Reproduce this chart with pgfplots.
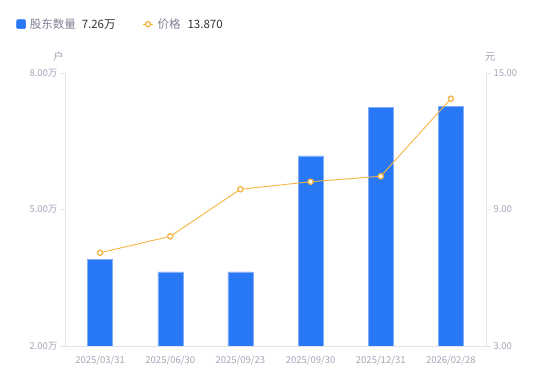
\documentclass[border=0pt]{standalone}
\usepackage{pgfplots}
\pgfplotsset{compat=1.18}
\usepackage{fontspec}
\setmainfont{Noto Sans CJK SC}
\definecolor{barblue}{HTML}{2878F5}
\definecolor{baredge}{HTML}{7FADF7}
\definecolor{lineorg}{HTML}{F7B443}
\definecolor{axgray}{HTML}{E3E4EA}
\definecolor{lblgray}{HTML}{A3A6B6}
\definecolor{leggray}{HTML}{7E8194}
\definecolor{legdark}{HTML}{333333}
\begin{document}
\begin{tikzpicture}
\useasboundingbox (0,0) rectangle (550bp,381bp);
\begin{axis}[
  at={(65bp,35bp)}, anchor=south west,
  scale only axis, width=421bp, height=273bp,
  xmin=-0.5, xmax=5.5, ymin=2, ymax=8,
  axis y line*=left, axis x line*=bottom,
  axis line style={draw=axgray, line width=0.8bp},
  ytick={2,5,8}, yticklabels={2.00万,5.00万,8.00万},
  xtick={0,1,2,3,4,5},
  xticklabels={2025/03/31,2025/06/30,2025/09/23,2025/09/30,2025/12/31,2026/02/28},
  xtick style={draw=none},
  ytick style={draw=axgray, line width=0.8bp},
  tick align=outside, major tick length=5bp,
  ticklabel style={font=\fontsize{9.5bp}{11bp}\selectfont, text=lblgray},
  yticklabel style={xshift=1bp},
  xticklabel style={yshift=-1bp},
  ylabel={户},
  ylabel style={rotate=-90, at={(axis description cs:-0.015,1.06)}, anchor=center, font=\fontsize{10.5bp}{12bp}\selectfont, text=lblgray},
  legend columns=2,
  legend style={at={(axis description cs:-0.116,1.179)}, anchor=west, draw=none, fill=none, inner sep=0pt,
    font=\fontsize{11.5bp}{13bp}\selectfont, text=leggray,
    /tikz/every even column/.append style={column sep=25bp}},
]
\addplot[ybar, bar width=25bp, fill=barblue, draw=baredge, line width=0.5bp, forget plot]
  coordinates {(0,3.91) (1,3.63) (2,3.63) (3,6.18) (4,7.25) (5,7.26)};
\addlegendimage{legend image code/.code={\fill[barblue, rounded corners=1.2bp] (0bp,-4.5bp) rectangle (9bp,4.5bp);}}
\addlegendentry{\hspace{2bp}股东数量\hspace{6bp}\textcolor{legdark}{7.26万}}
\addlegendimage{legend image code/.code={\draw[lineorg, line width=1bp] (0bp,0bp) -- (10bp,0bp); \draw[lineorg, fill=white, line width=1.3bp] (5bp,0bp) circle (2.6bp);}}
\addlegendentry{\hspace{2bp}价格\hspace{7bp}\textcolor{legdark}{13.870}}
\end{axis}
\begin{axis}[
  at={(65bp,35bp)}, anchor=south west,
  scale only axis, width=421bp, height=273bp,
  xmin=-0.5, xmax=5.5, ymin=3, ymax=15,
  axis y line*=right, axis x line=none,
  axis line style={draw=axgray, line width=0.8bp},
  ytick={3,9,15}, yticklabels={3.00,9.00,15.00},
  ytick style={draw=axgray, line width=0.8bp},
  tick align=outside, major tick length=5bp,
  ticklabel style={font=\fontsize{9.5bp}{11bp}\selectfont, text=lblgray},
  yticklabel style={xshift=-1bp},
  ylabel={元},
  ylabel style={rotate=-90, at={(axis description cs:1.01,1.06)}, anchor=center, font=\fontsize{10.5bp}{12bp}\selectfont, text=lblgray},
]
\addplot[lineorg, line width=0.9bp, mark=*, mark size=2.6bp,
  mark options={fill=white, draw=lineorg, line width=1.3bp}]
  coordinates {(0,7.10) (1,7.82) (2,9.89) (3,10.22) (4,10.46) (5,13.87)};
\end{axis}
\end{tikzpicture}
\end{document}
